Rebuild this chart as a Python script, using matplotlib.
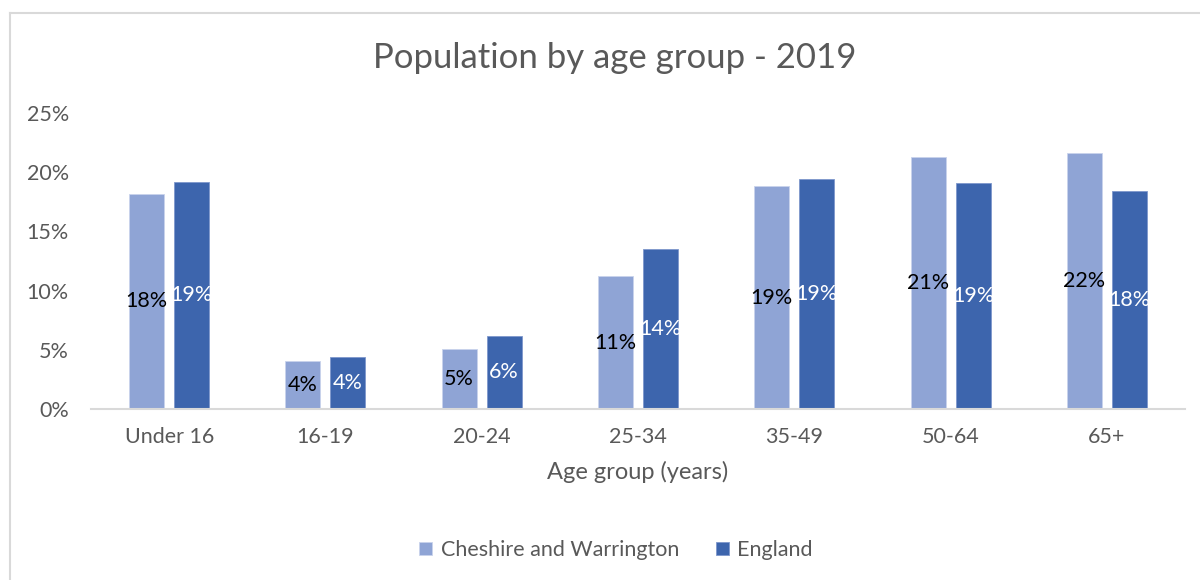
import numpy as np
import matplotlib.pyplot as plt
from matplotlib.lines import Line2D
from matplotlib.ticker import PercentFormatter

plt.rcParams['font.family'] = ['Lato', 'DejaVu Sans']

# Datos
age_groups = ["Under 16", "16-19", "20-24", "25-34", "35-49", "50-64", "65+"]
cheshire = [18.2, 4.05, 5.05, 11.2, 18.8, 21.3, 21.6]
england = [19.2, 4.4, 6.2, 13.5, 19.4, 19.1, 18.4]
series_names = ["Cheshire and Warrington", "England"]

light = "#8FA4D5"
dark = "#3D65AD"
grey_text = "#595959"
grey_line = "#D9D9D9"

fig = plt.figure(figsize=(12, 5.8), dpi=100)
ax = fig.add_axes([91 / 1200, 1 - 409 / 580, (1185 - 91) / 1200, (409 - 113) / 580])

x = np.arange(len(age_groups))
w = 0.224
off = 0.144

b1 = ax.bar(x - off, np.array(cheshire) / 100, w, color=light, edgecolor="#C9D3EC",
            linewidth=0.6, label=series_names[0])
b2 = ax.bar(x + off, np.array(england) / 100, w, color=dark, edgecolor="#7E97CC",
            linewidth=0.6, label=series_names[1])

# === Etiquetas en el centro de cada barra ===
for bars, col in [(b1, "black"), (b2, "white")]:
    for r in bars:
        h = r.get_height()
        ax.text(r.get_x() + r.get_width() / 2, h / 2, f"{h * 100:.0f}%",
                ha="center", va="center", color=col, fontsize=15.5)

ax.set_xlim(-0.5, len(age_groups) - 0.5)
ax.set_ylim(0, 0.25)
ax.set_yticks([0, 0.05, 0.10, 0.15, 0.20, 0.25])
ax.yaxis.set_major_formatter(PercentFormatter(1.0, decimals=0))
ax.set_xticks(x)
ax.set_xticklabels(age_groups)
ax.tick_params(axis="both", length=0, labelsize=15.5, colors=grey_text)
ax.tick_params(axis="x", pad=13)
ax.tick_params(axis="y", pad=16)

for s in ["top", "right", "left"]:
    ax.spines[s].set_visible(False)
ax.spines["bottom"].set_color(grey_line)
ax.spines["bottom"].set_linewidth(1.5)

ax.set_xlabel("Age group (years)", fontsize=17, color=grey_text, labelpad=10)

fig.text(615 / 1200, 1 - 58 / 580, "Population by age group - 2019", ha="center",
         va="center", fontsize=25, color=grey_text)

fig.legend(loc="center", bbox_to_anchor=(616 / 1200, 1 - 550 / 580), ncol=2,
           frameon=False, fontsize=15.5, handlelength=0.6, handleheight=0.6,
           handletextpad=0.4, columnspacing=1.7, labelcolor=grey_text)

# Borde del área del gráfico (solo arriba e izquierda visibles)
fig.add_artist(Line2D([10 / 1200, 1], [1 - 13 / 580, 1 - 13 / 580], color=grey_line, lw=1.5))
fig.add_artist(Line2D([10 / 1200, 10 / 1200], [0, 1 - 13 / 580], color=grey_line, lw=1.5))

plt.savefig("out.png", dpi=100)
